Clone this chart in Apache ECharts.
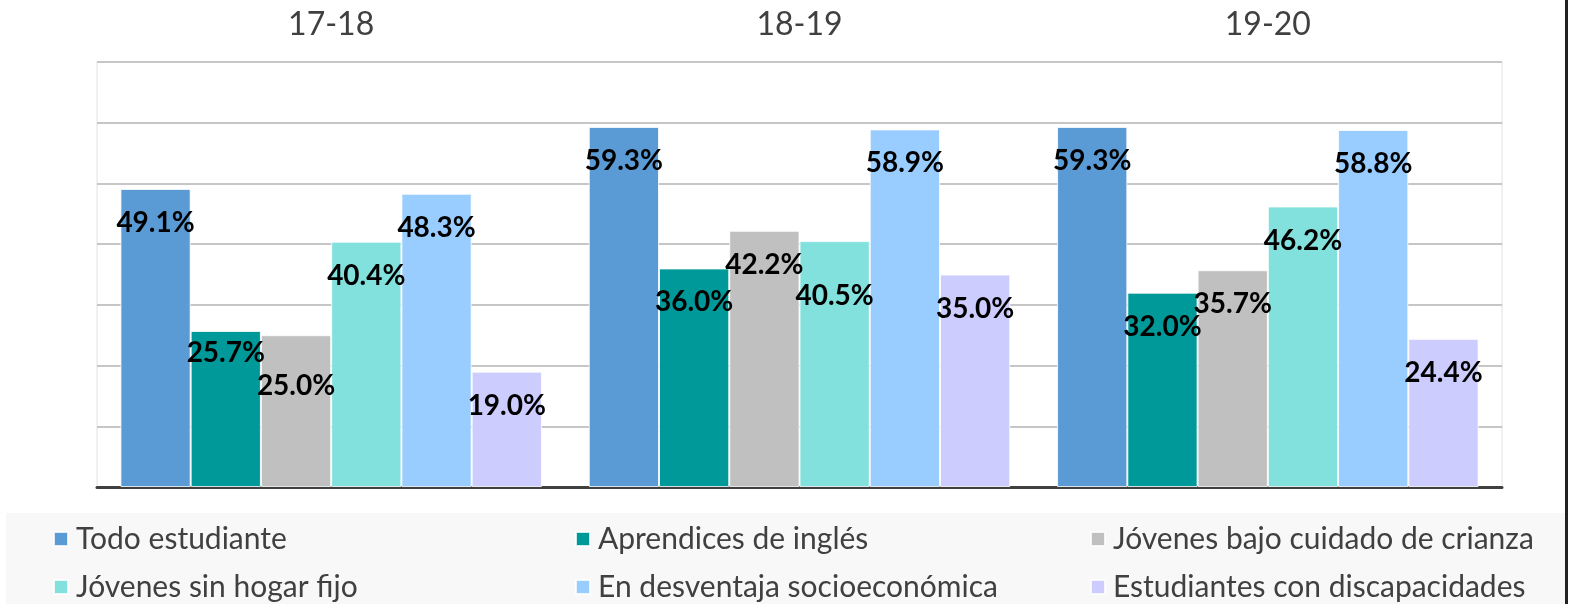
<!DOCTYPE html>
<html lang="es">
<head>
<meta charset="UTF-8">
<title>Indicador por grupo de estudiantes</title>
<script src="https://cdn.jsdelivr.net/npm/echarts@6/dist/echarts.min.js"></script>
<style>
  html, body { margin: 0; padding: 0; background: #fff; }
  #main { width: 1573px; height: 604px; }
</style>
</head>
<body>
<div id="main"></div>
<script>
  // años escolares
  var years = ['17-18', '18-19', '19-20'];

  var groupNames = [
    'Todo estudiante',
    'Aprendices de inglés',
    'Jóvenes bajo cuidado de crianza',
    'Jóvenes sin hogar fijo',
    'En desventaja socioeconómica',
    'Estudiantes con discapacidades'
  ];

  // porcentajes por grupo (uno por año)
  var todoEstudiante = [49.1, 59.3, 59.3];
  var aprendicesIngles = [25.7, 36.0, 32.0];
  var cuidadoCrianza = [25.0, 42.2, 35.7];
  var sinHogar = [40.4, 40.5, 46.2];
  var desventaja = [48.3, 58.9, 58.8];
  var discapacidades = [19.0, 35.0, 24.4];

  var values = [todoEstudiante, aprendicesIngles, cuidadoCrianza, sinHogar, desventaja, discapacidades];
  var colors = ['#5B9BD5', '#009999', '#C0C0C0', '#82E0DD', '#99CCFF', '#CCCCFF'];

  // pequeños ajustes verticales de etiquetas (como en el original, para evitar solapes)
  var labelNudge = { '1-0': -12, '2-0': 17, '3-1': 21 };

  var font = 'Lato, "Open Sans", sans-serif';

  var series = groupNames.map(function (name, s) {
    return {
      name: name,
      type: 'bar',
      barGap: 0,
      barCategoryGap: '10%',
      itemStyle: { color: colors[s], borderColor: 'rgba(255,255,255,0.8)', borderWidth: 1 },
      label: {
        show: true,
        position: 'insideTop',
        distance: 20,
        fontFamily: font,
        fontWeight: 'bold',
        fontSize: 28,
        color: '#000',
        formatter: function (p) { return p.value.toFixed(1) + '%'; }
      },
      data: values[s].map(function (v, i) {
        var d = { value: v };
        var n = labelNudge[s + '-' + i];
        if (n) d.label = { offset: [0, n] };
        return d;
      })
    };
  });

  // leyenda: 3 columnas x 2 filas
  var legendX = [48, 570, 1085];
  var legendY = [519, 567];
  var legends = groupNames.map(function (name, k) {
    return {
      data: [name],
      left: legendX[k % 3],
      top: legendY[Math.floor(k / 3)],
      itemWidth: 14,
      itemHeight: 14,
      itemGap: 8,
      icon: 'rect',
      selectedMode: false,
      textStyle: { fontFamily: font, fontSize: 30, color: '#404040', padding: [0, 0, 0, 3] }
    };
  });

  var myChart = echarts.init(document.getElementById('main'));

  var option = {
    backgroundColor: '#fff',
    animation: false,
    graphic: [
      { type: 'rect', left: 6, top: 513, shape: { width: 1562, height: 91 }, style: { fill: '#f8f8f8' }, z: -10 },
      { type: 'rect', left: 1565, top: 0, shape: { width: 3, height: 604 }, style: { fill: '#222' } }
    ],
    legend: legends,
    grid: {
      left: 97, right: 71, top: 62, bottom: 117,
      show: true, borderColor: '#e2e2e2', borderWidth: 1, backgroundColor: '#fff'
    },
    xAxis: [
      {
        type: 'category',
        data: years,
        position: 'top',
        axisLine: { show: false },
        axisTick: { show: false },
        axisLabel: { margin: 21, fontFamily: font, fontSize: 32, color: '#404040' }
      },
      {
        type: 'category',
        data: years,
        position: 'bottom',
        axisLine: { show: true, lineStyle: { color: '#404040', width: 3 } },
        axisTick: { show: false },
        axisLabel: { show: false }
      }
    ],
    yAxis: {
      type: 'value',
      min: 0,
      max: 70,
      interval: 10,
      axisLabel: { show: false },
      axisLine: { show: false },
      axisTick: { show: false },
      splitLine: { lineStyle: { color: '#c6c6c6', width: 2 } }
    },
    series: series
  };

  myChart.setOption(option);
</script>
</body>
</html>
